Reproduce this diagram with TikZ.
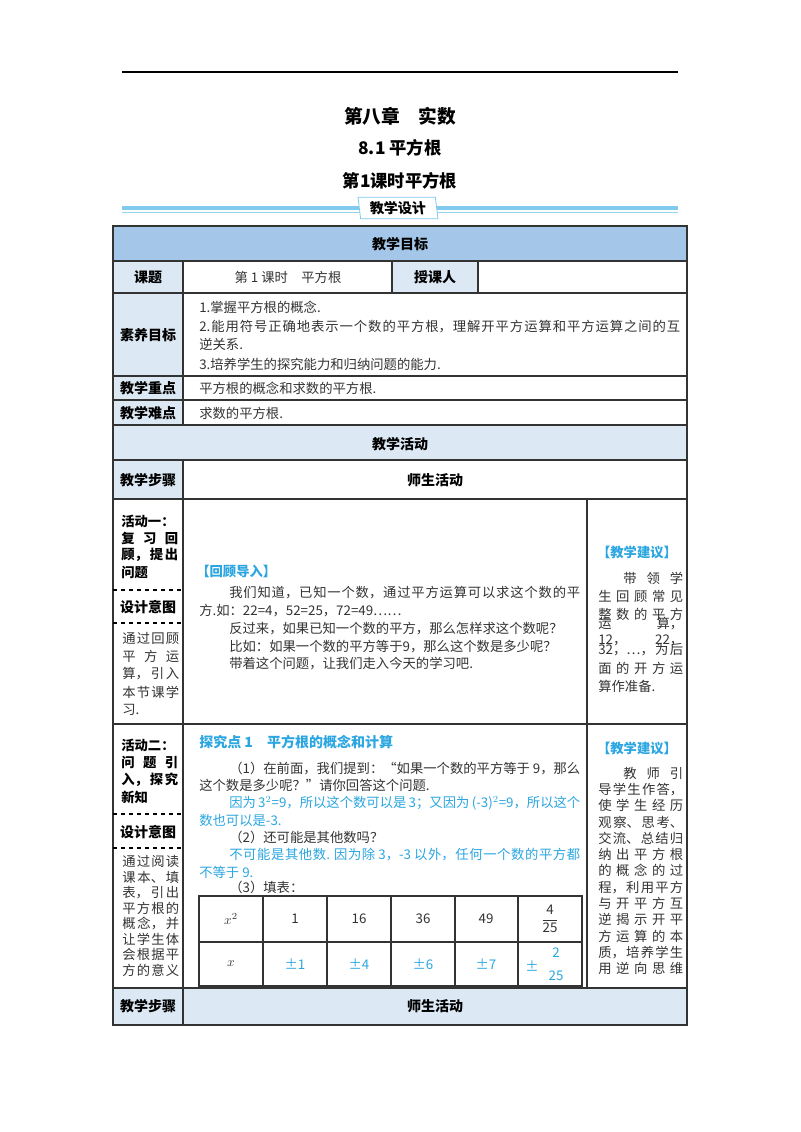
\documentclass[tikz,border=0pt]{standalone}
\usepackage{fontspec}
\setmainfont{Noto Sans CJK SC}
\XeTeXlinebreaklocale "zh"
\XeTeXlinebreakskip=0pt plus 12pt
\definecolor{hd}{HTML}{A4C6E8}
\definecolor{lt}{HTML}{DCE8F4}
\definecolor{bl}{HTML}{2BA6E1}
\definecolor{gr}{HTML}{333333}
\newcommand{\jl}[2]{\parbox{\dimexpr #1pt*3/4\relax}{\parfillskip=0pt\parindent=0pt\rightskip=0pt\leftskip=0pt #2\par}}
\tikzset{
 t/.style={anchor=west,inner sep=0pt,font=\fontsize{10}{12}\selectfont,text=gr},
 hb/.style={inner sep=0pt,font=\fontsize{10.5}{12}\bfseries\selectfont},
 lb/.style={anchor=west,inner sep=0pt,font=\fontsize{10}{12}\bfseries\selectfont},
 bt/.style={t,text=bl},
 gl/.style={draw=gr,line width=0.8pt},
 dl/.style={draw=black,dashed,line width=0.8pt}
}
\begin{document}
\begin{tikzpicture}[x=0.75pt,y=-0.75pt]
\useasboundingbox (0,0) rectangle (800,1132);
\fill[white] (0,0) rectangle (800,1132);
% top
\draw[line width=0.8pt] (122,72) -- (678,72);
\node[hb,font=\fontsize{14}{16}\bfseries\selectfont] (t1) at (400,116) {第八章\quad 实数};
\node[hb,font=\fontsize{13}{16}\bfseries\selectfont] (t2) at (400,148) {8.1 平方根};
\node[hb,font=\fontsize{13}{16}\bfseries\selectfont] (t3) at (400,181) {第1课时平方根};
\draw[bl!60,line width=3pt] (122,208) -- (678,208);
\draw[bl!50,line width=0.6pt] (122,212.5) -- (678,212.5);
\node[draw=bl!60,fill=white,line width=0.6pt,minimum width=58pt,minimum height=16pt,inner sep=0pt,xslant=-0.12,font=\fontsize{10.5}{12}\bfseries\selectfont] (bn) at (398,208) {\hspace*{0pt}教学设计};
% fills
\fill[hd] (113,226) rectangle (687,261);
\fill[lt] (113,261) rectangle (183,425);
\fill[lt] (392,261) rectangle (478,293);
\fill[lt] (113,425) rectangle (687,460);
\fill[lt] (113,460) rectangle (183,499);
\fill[lt] (113,988) rectangle (687,1025);
% grid
\draw[gl] (113,226) rectangle (687,1025);
\foreach \yy in {261,293,376,400,425,460,499,724,988} \draw[gl] (113,\yy) -- (687,\yy);
\draw[gl] (183,261) -- (183,425);
\draw[gl] (183,460) -- (183,1025);
\draw[gl] (392,261) -- (392,293);
\draw[gl] (478,261) -- (478,293);
\draw[gl] (587,499) -- (587,988);
\draw[dl] (113,590) -- (183,590);
\draw[dl] (113,623) -- (183,623);
\draw[dl] (113,814) -- (183,814);
\draw[dl] (113,848) -- (183,848);
% header texts
\node[hb] (h1) at (400,244) {教学目标};
\node[hb] (h2) at (148,277) {课题};
\node[t,anchor=center] (c1) at (288,277) {第 1 课时\quad 平方根};
\node[hb] (h3) at (435,277) {授课人};
\node[hb] (h4) at (148,335) {素养目标};
\node[t] (s1) at (199,307) {1.掌握平方根的概念.};
\node[t] (s2) at (199,327) {\jl{481}{2.能用符号正确地表示一个数的平方根，理解开平方运算和平方运算之间的互}};
\node[t] (s3) at (199,344) {逆关系.};
\node[t] (s4) at (199,364) {3.培养学生的探究能力和归纳问题的能力.};
\node[hb] (h5) at (148,388) {教学重点};
\node[t] (z1) at (199,388) {平方根的概念和求数的平方根.};
\node[hb] (h6) at (148,413) {教学难点};
\node[t] (n1) at (199,413) {求数的平方根.};
\node[hb] (h7) at (400,444) {教学活动};
\node[hb] (h8) at (148,480) {教学步骤};
\node[hb] (h9) at (435,480) {师生活动};
% activity 1 left
\node[lb] (a1) at (121,521) {活动一：};
\node[lb] (a2) at (121,538) {\jl{57}{复习回}};
\node[lb] (a3) at (121,555) {\jl{57}{顾，提出}};
\node[lb] (a4) at (121,572) {问题};
\node[hb] (d1) at (148,607) {设计意图};
\foreach \s [count=\i] in {通过回顾,平方运,算，引入,本节课学} \node[t] at (122,620+\i*18) {\jl{57}{\s}};
\node[t] (a5) at (122,710) {习.};
% activity 1 middle
\node[bt,font=\fontsize{10}{12}\bfseries\selectfont] (r1) at (196,571) {【回顾导入】};
\node[t] (m1) at (229,593) {\jl{351}{我们知道，已知一个数，通过平方运算可以求这个数的平}};
\node[t] (m2) at (199,611) {方.如：22=4，52=25，72=49……};
\node[t] (m3) at (229,629) {反过来，如果已知一个数的平方，那么怎样求这个数呢？};
\node[t] (m4) at (229,647) {比如：如果一个数的平方等于9，那么这个数是多少呢？};
\node[t] (m5) at (229,664) {带着这个问题，让我们走入今天的学习吧.};
% activity 1 right
\node[bt,anchor=center,font=\fontsize{10}{12}\bfseries\selectfont] (j1) at (637,552) {【教学建议】};
\node[t] (q0) at (623,578) {\jl{60}{带领学}};
\foreach \s [count=\i] in {生回顾常见,整数的平方,运算，12，22，,32，…，为后,面的开方运} \node[t] at (598,578+\i*18) {\jl{85}{\s}};
\node[t] (q6) at (598,686) {算作准备.};
% activity 2 left
\node[lb] (b1) at (121,745) {活动二：};
\node[lb] (b2) at (121,762) {\jl{57}{问题引}};
\node[lb] (b3) at (121,780) {\jl{57}{入，探究}};
\node[lb] (b4) at (121,797) {新知};
\node[hb] (d2) at (148,832) {设计意图};
\foreach \s [count=\i] in {通过阅读,课本、填,表，引出,平方根的,概念，并,让学生体,会根据平,方的意义} \node[t] at (122,846+\i*15.5) {\jl{57}{\s}};
% activity 2 middle
\node[bt,font=\fontsize{10.5}{12}\bfseries\selectfont] (k1) at (199,742) {探究点 1\quad 平方根的概念和计算};
\node[t] (k2) at (229,768) {\jl{351}{（1）在前面，我们提到：“如果一个数的平方等于 9，那么}};
\node[t] (k3) at (199,785) {这个数是多少呢？”请你回答这个问题.};
\node[bt] (k4) at (229,803) {\jl{351}{因为 3$^{2}$=9，所以这个数可以是 3；又因为 (-3)$^{2}$=9，所以这个}};
\node[bt] (k5) at (199,820) {数也可以是-3.};
\node[t] (k6) at (229,837) {（2）还可能是其他数吗？};
\node[bt] (k7) at (229,855) {\jl{351}{不可能是其他数. 因为除 3，-3 以外，任何一个数的平方都}};
\node[bt] (k8) at (199,872) {不等于 9.};
\node[t] (k9) at (229,887) {（3）填表：};
% inner table
\draw[gl] (199,896) rectangle (582,986);
\draw[gl] (199,942) -- (582,942);
\foreach \xx in {263,327,391,455,518} \draw[gl] (\xx,896) -- (\xx,986);
\node[t,anchor=center] (x1) at (231,919) {$x^{2}$};
\node[t,anchor=center] (x2) at (231,964) {$x$};
\foreach \v/\xx in {1/295,16/359,36/423,49/486} \node[t,anchor=center] at (\xx,919) {\v};
\node[t,anchor=center] (f1) at (550,919) {$\displaystyle\frac{\mathrm{4}}{\mathrm{25}}$};
\foreach \v/\xx in {1/295,4/359,6/423,7/486} \node[bt,anchor=center] at (\xx,964) {±\v};
\node[bt,anchor=center] (pm) at (532,966) {±};
\node[bt,anchor=center] (f2a) at (556,953) {2};
\node[bt,anchor=center] (f2b) at (556,976) {25};
% activity 2 right
\node[bt,anchor=center,font=\fontsize{10}{12}\bfseries\selectfont] (j2) at (637,748) {【教学建议】};
\node[t] (p0) at (623,773) {\jl{60}{教师引}};
\foreach \s [count=\i] in {导学生作答，,使学生经历,观察、思考、,交流、总结归,纳出平方根,的概念的过,程，利用平方,与开平方互,逆揭示开平,方运算的本,质，培养学生,用逆向思维} \node[t] at (598,773+\i*16.3) {\jl{85}{\s}};
% bottom row
\node[hb] (h10) at (148,1006) {教学步骤};
\node[hb] (h11) at (435,1006) {师生活动};
\end{tikzpicture}
\end{document}
